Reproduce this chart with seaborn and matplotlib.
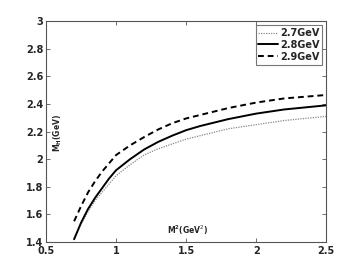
import numpy as np
import pandas as pd
import seaborn as sns
import matplotlib
matplotlib.use("Agg")
import matplotlib.pyplot as plt

x_vals = [0.7, 0.75, 0.8, 0.85, 0.9, 0.95, 1.0, 1.1, 1.2, 1.3, 1.4, 1.5, 1.6, 1.8, 2.0, 2.2, 2.5]
m27 = [1.42, 1.53, 1.62, 1.70, 1.76, 1.82, 1.88, 1.96, 2.03, 2.075, 2.11, 2.145, 2.17, 2.22, 2.25, 2.28, 2.31]
m28 = [1.42, 1.54, 1.64, 1.72, 1.79, 1.86, 1.92, 2.00, 2.07, 2.125, 2.17, 2.21, 2.24, 2.29, 2.33, 2.36, 2.39]
m29 = [1.55, 1.66, 1.76, 1.84, 1.91, 1.97, 2.03, 2.10, 2.16, 2.215, 2.26, 2.295, 2.32, 2.37, 2.41, 2.44, 2.465]
labels = ["2.7GeV", "2.8GeV", "2.9GeV"]

df = pd.concat([
    pd.DataFrame({"x": x_vals, "y": m27, "s": labels[0]}),
    pd.DataFrame({"x": x_vals, "y": m28, "s": labels[1]}),
    pd.DataFrame({"x": x_vals, "y": m29, "s": labels[2]}),
])

sns.set_style("ticks")
plt.rcParams['font.family'] = ['DejaVu Sans']

fig = plt.figure(figsize=(3.6, 2.73), dpi=100)
ax = fig.add_axes([0.128, 0.1136, 0.778, 0.809])

styles = {
    labels[0]: dict(color="#888888", ls=(0, (1, 1)), lw=0.9),
    labels[1]: dict(color="black", ls="-", lw=1.4),
    labels[2]: dict(color="black", ls=(0, (3, 2)), lw=1.4),
}
for lab in labels:
    sub = df[df["s"] == lab]
    sns.lineplot(data=sub, x="x", y="y", ax=ax, label=lab,
                 color=styles[lab]["color"], linestyle=styles[lab]["ls"],
                 linewidth=styles[lab]["lw"])

ax.set_xlim(0.5, 2.5)
ax.set_ylim(1.4, 3.0)
ax.set_xticks([0.5, 1, 1.5, 2, 2.5])
ax.set_xticklabels(["0.5", "1", "1.5", "2", "2.5"])
ax.set_yticks([1.4, 1.6, 1.8, 2.0, 2.2, 2.4, 2.6, 2.8, 3.0])
ax.set_yticklabels(["1.4", "1.6", "1.8", "2", "2.2", "2.4", "2.6", "2.8", "3"])
ax.tick_params(direction="in", length=3, width=0.6, top=True, right=True,
               labelsize=7, pad=2, color="#555555")
ax.tick_params(axis="x", pad=3)
for t in ax.get_xticklabels() + ax.get_yticklabels():
    t.set_fontweight("bold")
for sp in ax.spines.values():
    sp.set_visible(True)
    sp.set_color("#555555")
    sp.set_linewidth(0.8)

ax.set_xlabel("")
ax.set_ylabel("")
ax.text(0.58, 2.19, r"$\mathbf{M_H}$(GeV)", rotation=90, fontsize=5.5,
        fontweight="bold", ha="center", va="center")
ax.text(1.51, 1.487, r"$\mathbf{M^2}$(GeV$^2$)", fontsize=5.5,
        fontweight="bold", ha="center", va="center")

leg = ax.legend(loc="upper right", fontsize=7, frameon=True, fancybox=False,
                borderpad=0.3, labelspacing=0.2, handlelength=2.0,
                handletextpad=0.2, borderaxespad=0.4)
leg.get_frame().set_edgecolor("#555555")
leg.get_frame().set_linewidth(0.8)
for t in leg.get_texts():
    t.set_fontweight("bold")

fig.savefig("out.png", dpi=100)
